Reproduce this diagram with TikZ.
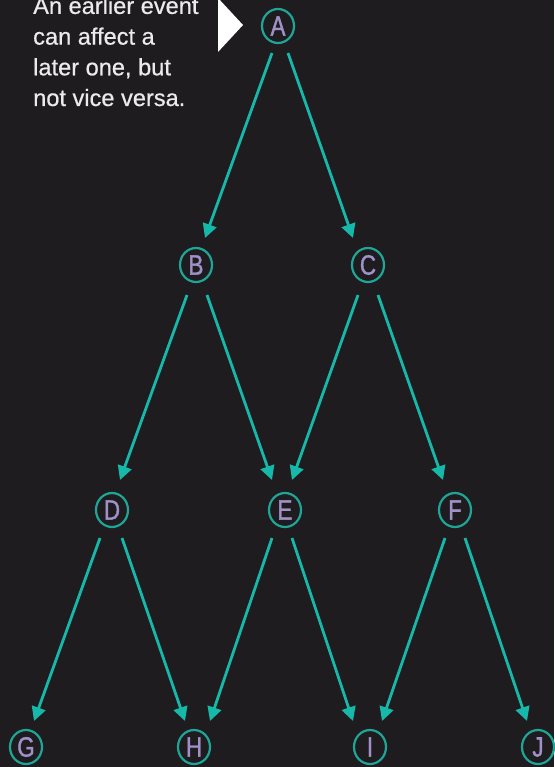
\documentclass[tikz,border=0pt]{standalone}
\usepackage{fontspec}
\setmainfont{Liberation Sans}[FakeBold=0.6]
\newfontfamily\letterfont{Liberation Sans}[FakeStretch=0.8,FakeBold=1.2]
\usetikzlibrary{arrows.meta,calc,shapes.geometric}
\definecolor{bg}{RGB}{31,28,31}
\definecolor{ringteal}{RGB}{30,165,152}
\definecolor{arrowteal}{RGB}{22,184,170}
\definecolor{lav}{RGB}{160,146,200}
\definecolor{notetext}{RGB}{235,235,235}
\begin{document}
\begin{tikzpicture}[x=1pt,y=-1pt,
  event/.style={ellipse, draw=ringteal, line width=2.2pt, minimum width=32pt, minimum height=34pt, inner sep=0pt, text=lav, font=\letterfont\fontsize{28}{28}\selectfont},
  link/.style={arrowteal, line width=2.8pt, -{Triangle[length=14pt,width=14pt]}},
  note/.style={anchor=base west, align=left, inner sep=0pt, text=notetext, font=\fontsize{23.6}{30.7}\selectfont}]
\fill[bg] (0,0) rectangle (554,767);
\useasboundingbox (0,0) rectangle (554,767);

\node[event] (A) at (278,26) {A};
\node[event] (B) at (196,265) {B};
\node[event] (C) at (368,265) {C};
\node[event] (D) at (112,510) {D};
\node[event] (E) at (285,510) {E};
\node[event] (F) at (455,510) {F};
\node[event] (G) at (26,747) {G};
\node[event] (H) at (194,747) {H};
\node[event] (I) at (370,747) {I};
\node[event] (J) at (538,747) {J};

\draw[link] ($(A)+(-6,27)$) -- ($(B)+(9,-27)$);
\draw[link] ($(A)+(10,27)$) -- ($(C)+(-15,-27)$);
\draw[link] ($(B)+(-9,30)$) -- ($(D)+(8,-30)$);
\draw[link] ($(B)+(11,30)$) -- ($(E)+(-13,-30)$);
\draw[link] ($(C)+(-10,30)$) -- ($(E)+(7,-30)$);
\draw[link] ($(C)+(10,30)$) -- ($(F)+(-12,-30)$);
\draw[link] ($(D)+(-12,28)$) -- ($(G)+(8,-26)$);
\draw[link] ($(D)+(10,28)$) -- ($(H)+(-9,-26)$);
\draw[link] ($(E)+(-13,28)$) -- ($(H)+(16,-26)$);
\draw[link] ($(E)+(7,28)$) -- ($(I)+(-17,-26)$);
\draw[link] ($(F)+(-10,28)$) -- ($(I)+(12,-26)$);
\draw[link] ($(F)+(10,28)$) -- ($(J)+(-11,-26)$);

\node[note] (txt) at (33,106) {An earlier event\\can affect a\\later one, but\\not vice versa.};
\fill[white] (218,-2) -- (218,52) -- (243,25) -- cycle;
\end{tikzpicture}
\end{document}
